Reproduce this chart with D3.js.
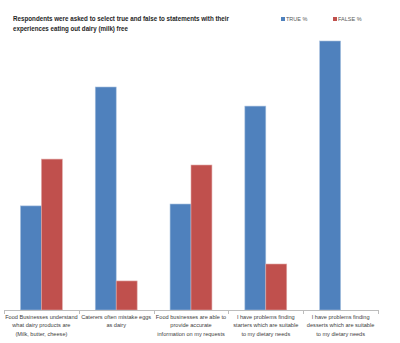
<!DOCTYPE html>
<html>
<head>
<meta charset="utf-8">
<script src="https://cdn.jsdelivr.net/npm/d3@7"></script>
<style>
  body { margin: 0; background: #fff; }
  text { font-family: "Liberation Sans", Arial, sans-serif; }
</style>
</head>
<body>
<svg id="chart"></svg>
<script>
const categories = [
  ["Food Businesses understand", "what dairy products are", "(Milk, butter, cheese)"],
  ["Caterers often mistake eggs", "as dairy"],
  ["Food businesses are able to", "provide accurate", "information on my requests"],
  ["I have problems finding", "starters which are suitable", "to my dietary needs"],
  ["I have problems finding", "desserts which are suitable", "to my dietary needs"]
];
const seriesNames = ["TRUE %", "FALSE %"];
const trueValues = [38.7, 82.9, 39.4, 75.8, 100];
const falseValues = [56.1, 10.8, 53.9, 17.1, 0];
const colors = ["#4f81bd", "#c0504d"];

const width = 400, height = 343;
const margin = { top: 41, right: 22, bottom: 33, left: 4 };

const svg = d3.select("#chart").attr("width", width).attr("height", height);

const data = categories.map((c, i) => ({ idx: i, values: [trueValues[i], falseValues[i]] }));

const x0 = d3.scaleBand()
  .domain(d3.range(categories.length))
  .range([margin.left, width - margin.right])
  .paddingInner(0)
  .paddingOuter(0);

const x1 = d3.scaleBand()
  .domain([0, 1])
  .range([x0.bandwidth() * 0.22, x0.bandwidth() * 0.78]);

const y = d3.scaleLinear()
  .domain([0, 100])
  .range([height - margin.bottom, margin.top]);

// bars
const groups = svg.append("g").selectAll("g").data(data).join("g")
  .attr("transform", d => `translate(${x0(d.idx)},0)`);

groups.selectAll("rect")
  .data(d => d.values.map((v, k) => ({ v, k })))
  .join("rect")
  .attr("x", d => x1(d.k))
  .attr("width", x1.bandwidth())
  .attr("y", d => y(d.v))
  .attr("height", d => y(0) - y(d.v))
  .attr("fill", d => colors[d.k])
  .attr("stroke", d => d.k === 0 ? "#a7c0de" : "#e0a9a7")
  .attr("stroke-width", 0.6)
  .style("display", d => d.v > 0 ? null : "none");

// x axis line + ticks at category boundaries
const axis = svg.append("g").attr("stroke", "#bdbdbd").attr("stroke-width", 1);
axis.append("line")
  .attr("x1", margin.left).attr("x2", width - margin.right)
  .attr("y1", y(0) + 0.5).attr("y2", y(0) + 0.5);
const bounds = d3.range(categories.length + 1).map(i =>
  i < categories.length ? x0(i) : x0(i - 1) + x0.bandwidth());
axis.selectAll("line.tick").data(bounds).join("line")
  .attr("class", "tick")
  .attr("x1", d => Math.round(d) + 0.5).attr("x2", d => Math.round(d) + 0.5)
  .attr("y1", y(0)).attr("y2", y(0) + 4);

// category labels
const labels = svg.append("g").selectAll("text").data(categories).join("text")
  .attr("text-anchor", "middle")
  .attr("font-size", 5.6)
  .attr("fill", "#404040")
  .attr("transform", (d, i) => `translate(${x0(i) + x0.bandwidth() / 2},${y(0) + 9})`);
labels.selectAll("tspan").data(d => d).join("tspan")
  .attr("x", 0)
  .attr("dy", (d, i) => i === 0 ? 0 : 8.3)
  .text(d => d);

// title
const title = svg.append("text")
  .attr("x", 13).attr("y", 21)
  .attr("font-size", 6.6).attr("font-weight", "bold").attr("fill", "#1f1f1f");
title.append("tspan").attr("x", 13).attr("textLength", 216).attr("lengthAdjust", "spacingAndGlyphs")
  .text("Respondents were asked  to select true and false to statements  with their");
title.append("tspan").attr("x", 13).attr("dy", 10).attr("textLength", 115).attr("lengthAdjust", "spacingAndGlyphs")
  .text("experiences eating out dairy (milk) free");

// legend
const legend = svg.append("g").selectAll("g").data(seriesNames).join("g")
  .attr("transform", (d, i) => `translate(${281 + i * 52},17)`);
legend.append("rect").attr("width", 4).attr("height", 4).attr("fill", (d, i) => colors[i]);
legend.append("text").attr("x", 5).attr("y", 4.2)
  .attr("font-size", 5.5).attr("fill", "#595959").text(d => d);
</script>
</body>
</html>
